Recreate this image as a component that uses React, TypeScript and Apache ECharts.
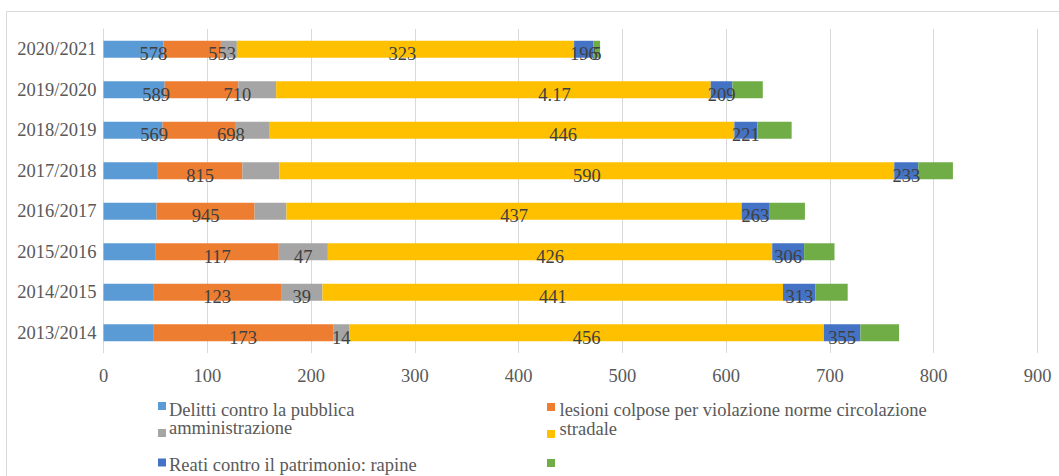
import React, { useEffect, useRef } from "react";
import * as echarts from "echarts";

// Categories, bottom to top
const categories = [
  "2013/2014",
  "2014/2015",
  "2015/2016",
  "2016/2017",
  "2017/2018",
  "2018/2019",
  "2019/2020",
  "2020/2021",
];

const seriesNames = [
  "Delitti contro la pubblica amministrazione",
  "Serie 2",
  "Serie 3",
  "lesioni colpose per violazione norme circolazione stradale",
  "Reati contro il patrimonio: rapine",
  "Serie 6",
];

// Segment lengths
const blueValues = [47.8, 47.8, 50.4, 51.1, 52.4, 56.9, 58.9, 57.8];
const orangeValues = [173.5, 123.3, 118.5, 94.5, 81.5, 69.8, 71.0, 55.3];
const grayValues = [15.4, 39.9, 47.3, 30.7, 35.5, 33.5, 36.5, 15.4];
const yellowValues = [457.5, 443.8, 428.2, 438.6, 592.6, 447.7, 418.7, 325.0];
const darkBlueValues = [35.2, 31.3, 30.7, 26.4, 23.1, 22.2, 20.9, 18.7];
const greenValues = [37.2, 31.0, 29.3, 34.6, 33.4, 33.0, 29.3, 6.3];

// Data label texts as printed in the picture
const blueLabels = ["", "", "", "", "", "569", "589", "578"];
const orangeLabels = ["173", "123", "117", "945", "815", "698", "710", "553"];
const grayLabels = ["14", "39", "47", "", "", "", "", ""];
const yellowLabels = ["456", "441", "426", "437", "590", "446", "4.17", "323"];
const darkBlueLabels = ["355", "313", "306", "263", "233", "221", "209", "196"];
const greenLabels = ["", "", "", "", "", "", "", "5"];

const xTicks = { min: 0, max: 900, interval: 100 };

// styling
const COLORS = ["#5B9BD5", "#ED7D31", "#A5A5A5", "#FFC000", "#4472C4", "#70AD47"];
const LABEL_SHIFT_X = [
  [0, 0, 0, 0, 0, 21, 22, 20],
  [0, 0, 0, 0, 0, 32, 36, 30],
  [0, 0, 0, 0, 0, 0, 0, 0],
  [0, 0, 0, 0, 0, 61, 61, -3],
  [0, 0, 0, 0, 0, 0, 0, 0],
  [0, 0, 0, 0, 0, 0, 0, 0],
];
const FONT = "'Liberation Serif', 'Times New Roman', serif";
const FS = 18.5;

export default function App() {
  const ref = useRef<HTMLDivElement | null>(null);

  useEffect(() => {
    document.body.style.margin = "0";
    if (!ref.current) return;
    const chart = echarts.init(ref.current, undefined, { renderer: "svg" });

    const allValues = [blueValues, orangeValues, grayValues, yellowValues, darkBlueValues, greenValues];
    const allLabels = [blueLabels, orangeLabels, grayLabels, yellowLabels, darkBlueLabels, greenLabels];

    const series = allValues.map((vals, si) => ({
      name: seriesNames[si],
      type: "bar",
      stack: "total",
      barWidth: 17,
      itemStyle: { color: COLORS[si] },
      data: vals.map((v, i) => ({
        value: v,
        label: {
          show: allLabels[si][i] !== "",
          position: "inside",
          formatter: allLabels[si][i],
          offset: [LABEL_SHIFT_X[si][i], 5],
          color: "#404040",
          fontSize: FS,
          fontFamily: FONT,
        },
      })),
    }));

    const legendText = (text: string, x: number, y: number) => ({
      type: "text",
      x,
      y,
      style: {
        text,
        fill: "#595959",
        font: `${FS}px ${FONT}`,
        verticalAlign: "middle",
        align: "left",
      },
    });
    const legendMarker = (color: string, x: number, y: number) => ({
      type: "rect",
      shape: { x, y, width: 8, height: 8 },
      style: { fill: color },
    });

    chart.setOption({
      animation: false,
      grid: { left: 103.5, right: 21.5, top: 29, bottom: 123, containLabel: false },
      xAxis: {
        type: "value",
        min: xTicks.min,
        max: xTicks.max,
        interval: xTicks.interval,
        axisLine: { show: false },
        axisTick: { show: false },
        splitLine: { lineStyle: { color: "#d9d9d9", width: 1 } },
        axisLabel: { color: "#595959", fontSize: FS, fontFamily: FONT, margin: 13 },
      },
      yAxis: {
        type: "category",
        data: categories,
        axisLine: { show: true, lineStyle: { color: "#d9d9d9", width: 1 } },
        axisTick: { show: false },
        axisLabel: {
          color: "#595959",
          fontSize: FS,
          fontFamily: FONT,
          margin: 7,
          padding: [8, 0, 0, 0],
        },
      },
      series,
      graphic: [
        {
          type: "rect",
          shape: { x: 6.5, y: 11.5, width: 1100, height: 500 },
          style: { fill: "none", stroke: "#d9d9d9", lineWidth: 1 },
          silent: true,
        },
        legendMarker(COLORS[0], 158, 402),
        legendText("Delitti contro la pubblica", 169, 409.5),
        legendMarker(COLORS[2], 158, 429),
        legendText("amministrazione", 169, 428),
        legendMarker(COLORS[4], 158, 458.5),
        legendText("Reati contro il patrimonio: rapine", 169, 465),
        legendMarker(COLORS[1], 547, 403),
        legendText("lesioni colpose per violazione norme circolazione", 559.5, 409.5),
        legendMarker(COLORS[3], 547, 430),
        legendText("stradale", 559.5, 429),
        legendMarker(COLORS[5], 547, 459),
      ],
    });

    return () => chart.dispose();
  }, []);

  return <div ref={ref} style={{ width: 1059, height: 476 }} />;
}
